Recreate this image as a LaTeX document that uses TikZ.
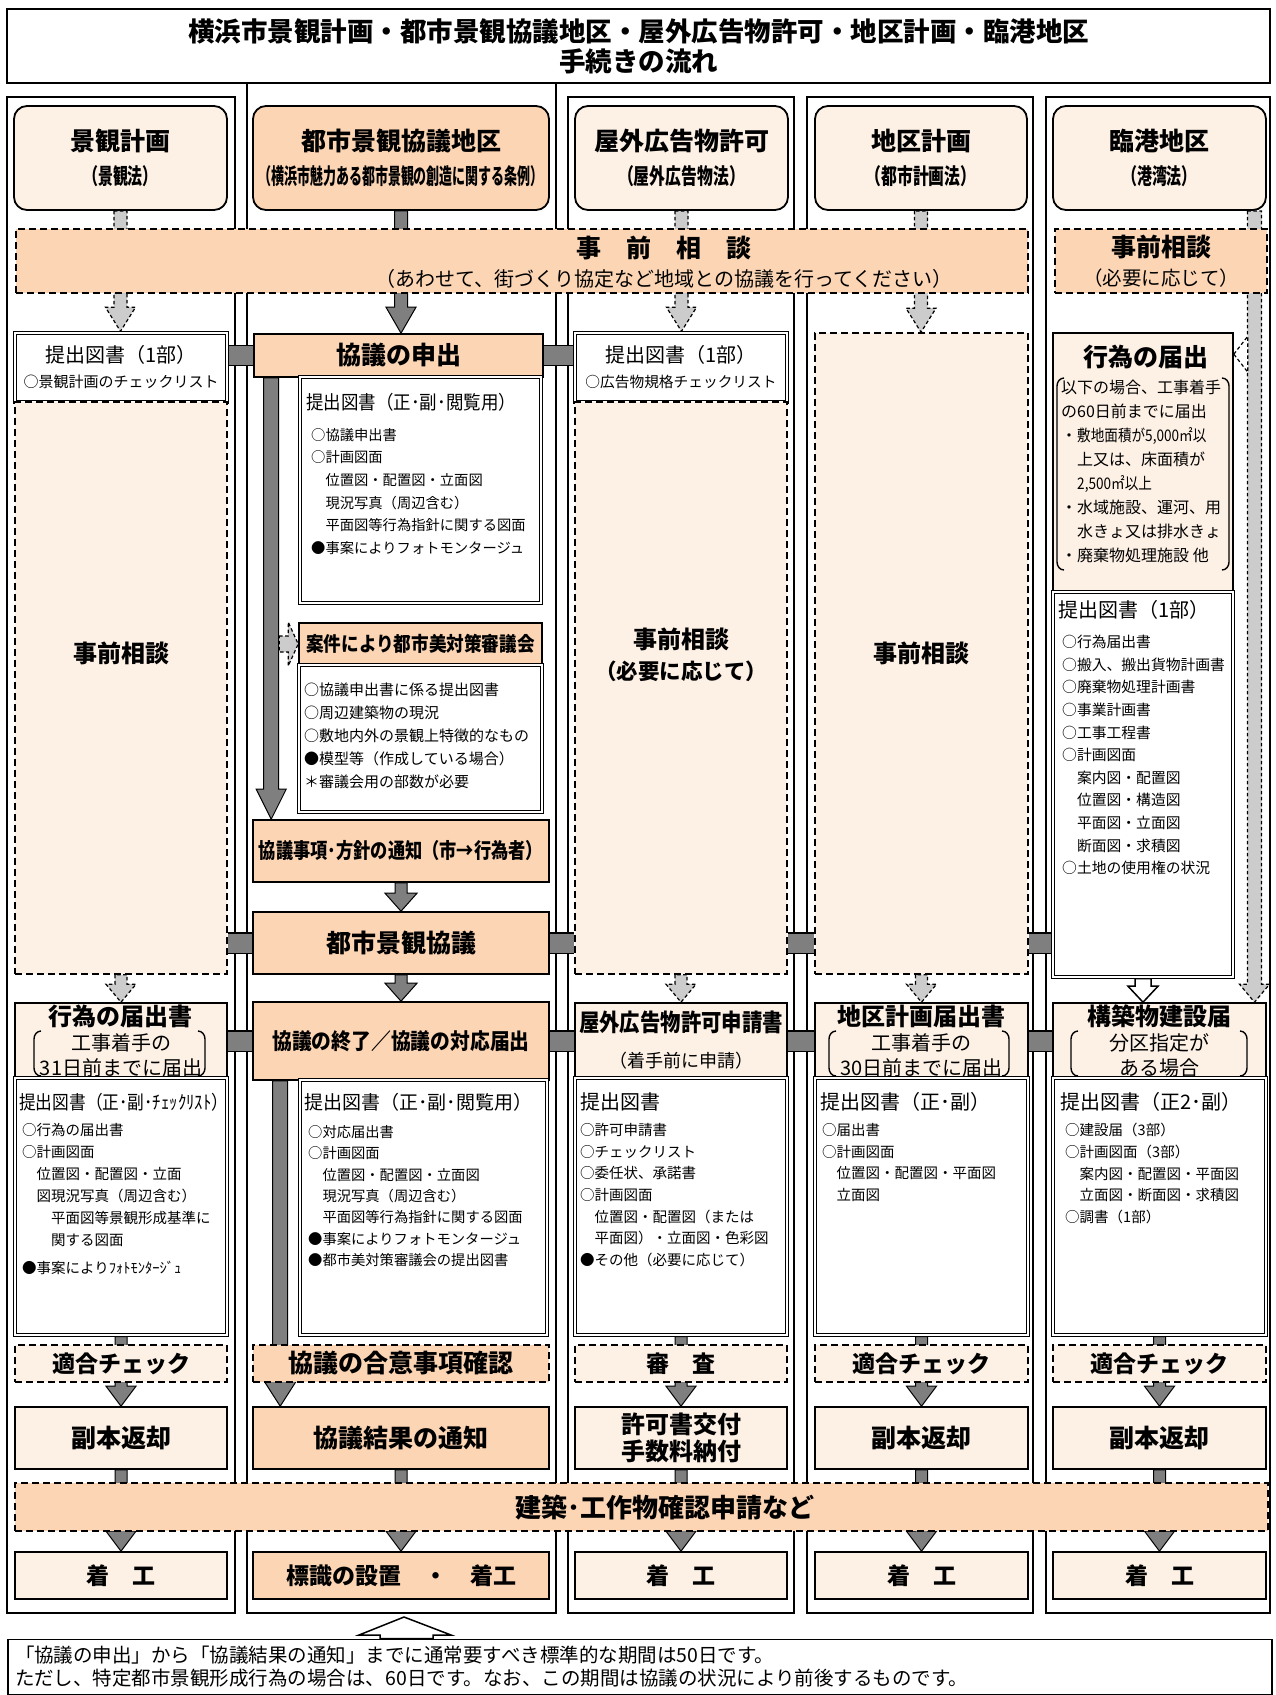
\documentclass[tikz,border=0pt]{standalone}
\usepackage{fontspec}
\setmainfont{Noto Sans CJK JP}
\usepackage{graphicx}
\usepackage{xcolor}
\usetikzlibrary{calc}

\definecolor{pale}{HTML}{FDF1E6}
\definecolor{peach}{HTML}{FCD5B4}
\definecolor{darkfill}{HTML}{7F7F7F}
\definecolor{lightfill}{HTML}{CCCCCC}

\pgfdeclarelayer{back}
\pgfsetlayers{back,main}

\newcommand{\fsz}[2]{\fontsize{#1}{#2}\selectfont}
\newcommand{\condense}[2]{\scalebox{#1}[1]{#2}}
\newcommand{\blockarrow}[6][]{%
	\draw[#1] let \p1=#2, \p2=#3 in (\x1-#4,\y1) -- (\x1-#4,\y2+#6) -- (\x1-#5,\y2+#6) -- (\x1,\y2) -- (\x1+#5,\y2+#6) -- (\x1+#4,\y2+#6) -- (\x1+#4,\y1) -- cycle;}
\newcommand{\bracketpair}[4]{%
	\draw[bracket] (#1+7,#3) to[out=180,in=90] (#1,#3+8) -- (#1,#4-8) to[out=-90,in=180] (#1+7,#4);
	\draw[bracket] (#2-7,#3) to[out=0,in=90] (#2,#3+8) -- (#2,#4-8) to[out=-90,in=0] (#2-7,#4);}

\begin{document}
\begin{tikzpicture}[x=1pt, y=-1pt,
			titlebox/.style={draw, line width=2.6pt, minimum width=1263, minimum height=74, align=center, font=\fsz{26.5}{30}\bfseries},
			headbox/.style={draw, line width=1.8pt, rounded corners=13pt, fill=pale, minimum height=104, align=center, font=\fsz{22}{34}},
			keyhead/.style={headbox, fill=peach},
			stepbox/.style={draw, line width=1.6pt, fill=pale, minimum width=212, align=center, inner sep=0pt},
			keybox/.style={stepbox, fill=peach, minimum width=296},
			docbox/.style={draw, line width=3.4pt, fill=white, postaction={draw=white, line width=1.4pt}, inner sep=0pt},
			dashbox/.style={draw, line width=1.6pt, dash pattern=on 7pt off 4pt, fill=pale, minimum width=212, align=center, inner sep=0pt},
			keydash/.style={dashbox, fill=peach},
			doctitle/.style={anchor=west, inner sep=0pt, font=\fsz{20}{22}},
			items/.style={anchor=north west, inner sep=0pt, align=left, font=\fsz{14.5}{21.7}},
			bracket/.style={line width=1.4pt},
			darkarrow/.style={draw, line width=1pt, fill=darkfill},
			lightarrow/.style={draw, line width=1.2pt, dash pattern=on 3.5pt off 2.5pt, fill=lightfill},
			hollowarrow/.style={draw, line width=1.5pt, fill=white},
			joint/.style={line width=1.2pt, double=darkfill, double distance=19pt},
			frame/.style={line width=2.5pt}]

			\useasboundingbox (0,0) rectangle (1275,1695);

			\node[titlebox] (title) at (638.5,46) {横浜市景観計画・都市景観協議地区・屋外広告物許可・地区計画・臨港地区\\手続きの流れ};

			\node[headbox, minimum width=213] (hA) at (120.5,158) {{\fsz{25}{34}\bfseries 景観計画}\\\condense{0.68}{\bfseries（景観法）}};
			\node[keyhead, minimum width=296] (hB) at (401,158) {{\fsz{25}{34}\bfseries 都市景観協議地区}\\\condense{0.59}{\bfseries（横浜市魅力ある都市景観の創造に関する条例）}};
			\node[headbox, minimum width=213] (hC) at (681.5,158) {{\fsz{25}{34}\bfseries 屋外広告物許可}\\\condense{0.72}{\bfseries（屋外広告物法）}};
			\node[headbox, minimum width=212] (hD) at (921,158) {{\fsz{25}{34}\bfseries 地区計画}\\\condense{0.72}{\bfseries（都市計画法）}};
			\node[headbox, minimum width=213] (hE) at (1159.5,158) {{\fsz{25}{34}\bfseries 臨港地区}\\\condense{0.68}{\bfseries（港湾法）}};

			\node[keydash, minimum width=1012, minimum height=64] (band1) at (522,261) {};
			\node[font=\fsz{20}{29}, align=center] (band1txt) at (664,262) {{\fsz{25}{29}\bfseries 事　前　相　談}\\（あわせて、街づくり協定など地域との協議を行ってください）};
			\node[keydash, minimum width=212, minimum height=64, font=\fsz{19.5}{29}] (band2) at (1161,261) {{\fsz{25}{29}\bfseries 事前相談}\\（必要に応じて）};

			\node[docbox, minimum width=212, minimum height=69, align=center, font=\fsz{20}{25}] (pA) at (121,367.5) {提出図書（1部）\\{\fsz{15}{25}○景観計画のチェックリスト}};
			\node[dashbox, minimum height=572] (sA) at (121,688) {};
			\node[font=\fsz{24}{28}\bfseries] (tA) at (121,653) {事前相談};
			\node[stepbox, minimum height=75, font=\fsz{20}{25}] (fA) at (121,1040.5) {{\fsz{24}{25}\bfseries 行為の届出書}\\工事着手の\\31日前までに届出};
			\bracketpair{34}{205}{1031}{1076}
			\node[docbox, minimum width=212, minimum height=257] (dA) at (121,1206.5) {};
			\node[doctitle, font=\fsz{19}{22}] (dAt) at (19,1102) {\condense{0.88}{提出図書（正･副･ﾁｪｯｸﾘｽﾄ）}};
			\node[items, font=\fsz{14.5}{22}] (dAi) at (22,1123) {○行為の届出書\\○計画図面\\　位置図・配置図・立面\\　図現況写真（周辺含む）\\　　平面図等景観形成基準に\\　　関する図面\\[6pt]●事案によりﾌｫﾄﾓﾝﾀｰｼﾞｭ};
			\node[dashbox, minimum height=37, font=\fsz{23}{26}\bfseries] (cA) at (121,1363.5) {適合チェック};
			\node[stepbox, minimum height=62, font=\fsz{25}{30}\bfseries] (oA) at (121,1438) {副本返却};
			\node[stepbox, minimum height=47, font=\fsz{23}{26}\bfseries] (wA) at (121,1575.5) {着　工};

			\node[keybox, minimum width=289, minimum height=43, font=\fsz{25}{30}\bfseries] (mB) at (398.5,355.5) {協議の申出};
			\node[docbox, minimum width=241, minimum height=226] (pB) at (420.5,490) {};
			\node[doctitle, font=\fsz{19}{22}] (pBt) at (306,402) {\condense{0.92}{提出図書（正･副･閲覧用）}};
			\node[items, font=\fsz{14.3}{22.6}] (pBi) at (311,428) {○協議申出書\\○計画図面\\　位置図・配置図・立面図\\　現況写真（周辺含む）\\　平面図等行為指針に関する図面\\●事案によりフォトモンタージュ};
			\node[keybox, minimum width=243, minimum height=42, font=\fsz{20}{24}\bfseries] (kB) at (420.5,644) {\condense{0.88}{案件により都市美対策審議会}};
			\node[docbox, minimum width=243, minimum height=147] (kBd) at (420.5,738.5) {};
			\node[items, font=\fsz{15}{23}] (kBi) at (304,683) {○協議申出書に係る提出図書\\○周辺建築物の現況\\○敷地内外の景観上特徴的なもの\\●模型等（作成している場合）\\＊審議会用の部数が必要};
			\node[keybox, minimum height=62, font=\fsz{21}{26}\bfseries] (nB) at (401,851) {\condense{0.82}{協議事項･方針の通知（市→行為者）}};
			\node[keybox, minimum height=62, font=\fsz{25}{30}\bfseries] (uB) at (401,943) {都市景観協議};
			\node[keybox, minimum height=78, font=\fsz{22}{26}\bfseries] (qB) at (401,1041) {\condense{0.9}{協議の終了／協議の対応届出}};
			\node[docbox, minimum width=247, minimum height=255] (dB) at (423.5,1207.5) {};
			\node[doctitle, font=\fsz{19}{22}] (dBt) at (304,1102) {提出図書（正･副･閲覧用）};
			\node[items, font=\fsz{14.3}{21.4}] (dBi) at (308,1125) {○対応届出書\\○計画図面\\　位置図・配置図・立面図\\　現況写真（周辺含む）\\　平面図等行為指針に関する図面\\●事案によりフォトモンタージュ\\●都市美対策審議会の提出図書};
			\node[keydash, minimum width=296, minimum height=37, font=\fsz{25}{28}\bfseries] (cB) at (401,1363.5) {協議の合意事項確認};
			\node[keybox, minimum height=62, font=\fsz{25}{30}\bfseries] (oB) at (401,1438) {協議結果の通知};
			\node[keybox, minimum height=47, font=\fsz{23}{26}\bfseries] (wB) at (401,1575.5) {標識の設置　・　着工};

			\node[docbox, minimum width=212, minimum height=69, align=center, font=\fsz{20}{25}] (pC) at (681,367.5) {提出図書（1部）\\{\fsz{14.7}{25}○広告物規格チェックリスト}};
			\node[dashbox, minimum height=572] (sC) at (681,688) {};
			\node[font=\fsz{24}{31}\bfseries, align=center] (tC) at (681,655) {事前相談\\{\fsz{21.5}{31}（必要に応じて）}};
			\node[stepbox, minimum height=75, font=\fsz{18}{36}] (fC) at (681,1040.5) {{\fsz{24}{36}\bfseries\condense{0.85}{屋外広告物許可申請書}}\\（着手前に申請）};
			\node[docbox, minimum width=212, minimum height=257] (dC) at (681,1206.5) {};
			\node[doctitle] (dCt) at (580,1102) {提出図書};
			\node[items] (dCi) at (580,1123) {○許可申請書\\○チェックリスト\\○委任状、承諾書\\○計画図面\\　位置図・配置図（または\\　平面図）・立面図・色彩図\\●その他（必要に応じて）};
			\node[dashbox, minimum height=37, font=\fsz{23}{26}\bfseries] (cC) at (681,1363.5) {審　査};
			\node[stepbox, minimum height=62, font=\fsz{24}{27}\bfseries] (oC) at (681,1438) {許可書交付\\手数料納付};
			\node[stepbox, minimum height=47, font=\fsz{23}{26}\bfseries] (wC) at (681,1575.5) {着　工};

			\node[dashbox, minimum width=213, minimum height=641, font=\fsz{24}{28}\bfseries] (sD) at (921.5,653.5) {事前相談};
			\node[stepbox, minimum width=213, minimum height=75, font=\fsz{20}{25}] (fD) at (921.5,1040.5) {{\fsz{24}{25}\bfseries 地区計画届出書}\\工事着手の\\30日前までに届出};
			\bracketpair{829}{1009}{1031}{1076}
			\node[docbox, minimum width=213, minimum height=257] (dD) at (921.5,1206.5) {};
			\node[doctitle] (dDt) at (820,1102) {提出図書（正･副）};
			\node[items] (dDi) at (822,1123) {○届出書\\○計画図面\\　位置図・配置図・平面図\\　立面図};
			\node[dashbox, minimum width=213, minimum height=37, font=\fsz{23}{26}\bfseries] (cD) at (921.5,1363.5) {適合チェック};
			\node[stepbox, minimum width=213, minimum height=62, font=\fsz{25}{30}\bfseries] (oD) at (921.5,1438) {副本返却};
			\node[stepbox, minimum width=213, minimum height=47, font=\fsz{23}{26}\bfseries] (wD) at (921.5,1575.5) {着　工};

			\node[stepbox, minimum width=180, minimum height=259] (gE) at (1143,462.5) {};
			\node[font=\fsz{25}{30}\bfseries] (gEt) at (1146,357) {行為の届出};
			\node[items, font=\fsz{16}{24}] (gEi) at (1061,380) {以下の場合、工事着手\\の60日前までに届出\\・\condense{0.85}{敷地面積が5,000㎡以}\\　上又は、床面積が\\　\condense{0.85}{2,500㎡以上}\\・水域施設、運河、用\\　水きょ又は排水きょ\\・廃棄物処理施設 他};
			\bracketpair{1057}{1229}{378}{570}
			\node[docbox, minimum width=180, minimum height=385] (dE) at (1143,784.5) {};
			\node[doctitle] (dEt) at (1058,610) {提出図書（1部）};
			\node[items, font=\fsz{14.8}{22.6}] (dEi) at (1062,635) {○行為届出書\\○搬入、搬出貨物計画書\\○廃棄物処理計画書\\○事業計画書\\○工事工程書\\○計画図面\\　案内図・配置図\\　位置図・構造図\\　平面図・立面図\\　断面図・求積図\\○土地の使用権の状況};
			\node[stepbox, minimum width=213, minimum height=75, font=\fsz{20}{25}] (fE) at (1159.5,1040.5) {{\fsz{24}{25}\bfseries 構築物建設届}\\分区指定が\\ある場合};
			\bracketpair{1071}{1247}{1031}{1076}
			\node[docbox, minimum width=213, minimum height=257] (eE) at (1159.5,1206.5) {};
			\node[doctitle] (eEt) at (1060,1102) {提出図書（正2･副）};
			\node[items] (eEi) at (1065,1123) {○建設届（3部）\\○計画図面（3部）\\　案内図・配置図・平面図\\　立面図・断面図・求積図\\○調書（1部）};
			\node[dashbox, minimum width=213, minimum height=37, font=\fsz{23}{26}\bfseries] (cE) at (1159.5,1363.5) {適合チェック};
			\node[stepbox, minimum width=213, minimum height=62, font=\fsz{25}{30}\bfseries] (oE) at (1159.5,1438) {副本返却};
			\node[stepbox, minimum width=213, minimum height=47, font=\fsz{23}{26}\bfseries] (wE) at (1159.5,1575.5) {着　工};

			\node[keydash, minimum width=1253, minimum height=48] (band3) at (641.5,1507) {};
			\node[font=\fsz{26}{30}\bfseries] (band3txt) at (665,1508) {建築･工作物確認申請など};

			\node[draw, line width=1.5pt, minimum width=1264, minimum height=50, text width=1250pt, align=left, inner sep=7pt, font=\fsz{19.5}{23}] (note) at (640,1667) {「協議の申出」から「協議結果の通知」までに通常要すべき標準的な期間は50日です。\\ただし、特定都市景観形成行為の場合は、60日です。なお、この期間は協議の状況により前後するものです。};
			\coordinate (noteTip) at (404,1617);

			\begin{pgfonlayer}{back}
				\draw[frame] (7,97) rectangle (235,1613);
				\draw[frame] (247,83) -- (247,1613) -- (556,1613) -- (556,83);
				\draw[frame] (568,97) rectangle (794,1613);
				\draw[frame] (807,97) rectangle (1033,1613);
				\draw[frame] (1046,97) rectangle (1270,1613);

				\blockarrow[lightarrow]{(hA.south)}{(pA.north)}{6.5pt}{15pt}{24pt}
				\blockarrow[darkarrow]{(hB.south)}{(mB.north)}{6.5pt}{15pt}{26pt}
				\blockarrow[lightarrow]{(hC.south)}{(pC.north)}{6.5pt}{15pt}{24pt}
				\blockarrow[lightarrow]{(hD.south)}{(sD.north)}{6.5pt}{15pt}{24pt}
				\blockarrow[lightarrow]{([xshift=95pt]hE.south)}{(fE.north)}{7pt}{15pt}{18pt}
				\draw[lightarrow, fill=white] let \p1=([yshift=-22pt]gE.north east) in (\p1) -- ++(14pt,18pt) -- ++(0pt,-36pt) -- cycle;

				\blockarrow[lightarrow]{(sA.south)}{(fA.north)}{6pt}{15pt}{18pt}
				\blockarrow[darkarrow]{(dA.south)}{(oA.north)}{6pt}{15pt}{20pt}
				\blockarrow[darkarrow]{(oA.south)}{(wA.north)}{6pt}{15pt}{20pt}

				\blockarrow[darkarrow]{([xshift=18pt]mB.south west)}{(nB.north)}{7.5pt}{15pt}{30pt}
				\draw[lightarrow] let \p1=(kB.west) in (\x1-19pt,\y1+8pt) -- (\x1-10pt,\y1+8pt) -- (\x1-10pt,\y1+22pt) -- (\x1,\y1) -- (\x1-10pt,\y1-22pt) -- (\x1-10pt,\y1-8pt) -- (\x1-19pt,\y1-8pt) -- cycle;
				\blockarrow[darkarrow]{(nB.south)}{(uB.north)}{6pt}{16pt}{18pt}
				\blockarrow[darkarrow]{(uB.south)}{(qB.north)}{6pt}{16pt}{18pt}
				\blockarrow[darkarrow]{([xshift=28pt]qB.south west)}{(oB.north)}{7.5pt}{16pt}{25pt}
				\blockarrow[darkarrow]{(oB.south)}{(wB.north)}{6pt}{15pt}{20pt}

				\blockarrow[lightarrow]{(sC.south)}{(fC.north)}{6pt}{15pt}{18pt}
				\blockarrow[darkarrow]{(dC.south)}{(oC.north)}{6pt}{15pt}{20pt}
				\blockarrow[darkarrow]{(oC.south)}{(wC.north)}{6pt}{15pt}{20pt}

				\blockarrow[lightarrow]{(sD.south)}{(fD.north)}{6pt}{15pt}{18pt}
				\blockarrow[darkarrow]{(dD.south)}{(oD.north)}{6pt}{15pt}{20pt}
				\blockarrow[darkarrow]{(oD.south)}{(wD.north)}{6pt}{15pt}{20pt}

				\blockarrow[hollowarrow]{(dE.south)}{(fE.north)}{8pt}{15pt}{16pt}
				\blockarrow[darkarrow]{(eE.south)}{(oE.north)}{6pt}{15pt}{20pt}
				\blockarrow[darkarrow]{(oE.south)}{(wE.north)}{6pt}{15pt}{20pt}

				\draw[joint] (pA.east |- mB.west) -- (mB.west);
				\draw[joint] (mB.east) -- (pC.west |- mB.east);
				\draw[joint] (sA.east |- uB.west) -- (uB.west);
				\draw[joint] (uB.east) -- (sC.west |- uB.east);
				\draw[joint] (sC.east |- uB.east) -- (sD.west |- uB.east);
				\draw[joint] (sD.east |- uB.east) -- (dE.west |- uB.east);
				\draw[joint] (fA.east |- qB.west) -- (qB.west);
				\draw[joint] (qB.east) -- (fC.west |- qB.east);
				\draw[joint] (fC.east |- qB.east) -- (fD.west |- qB.east);
				\draw[joint] (fD.east |- qB.east) -- (fE.west |- qB.east);

				\draw[hollowarrow] let \p1=(noteTip), \p2=(note.north) in (\x1,\y1) -- (\x1+47pt,\y1-18pt) -- (\x1+29pt,\y1-18pt) -- (\x1+29pt,\y2) -- (\x1-24pt,\y2) -- (\x1-24pt,\y1-18pt) -- (\x1-45pt,\y1-18pt) -- cycle;
			\end{pgfonlayer}
		\end{tikzpicture}
\end{document}
